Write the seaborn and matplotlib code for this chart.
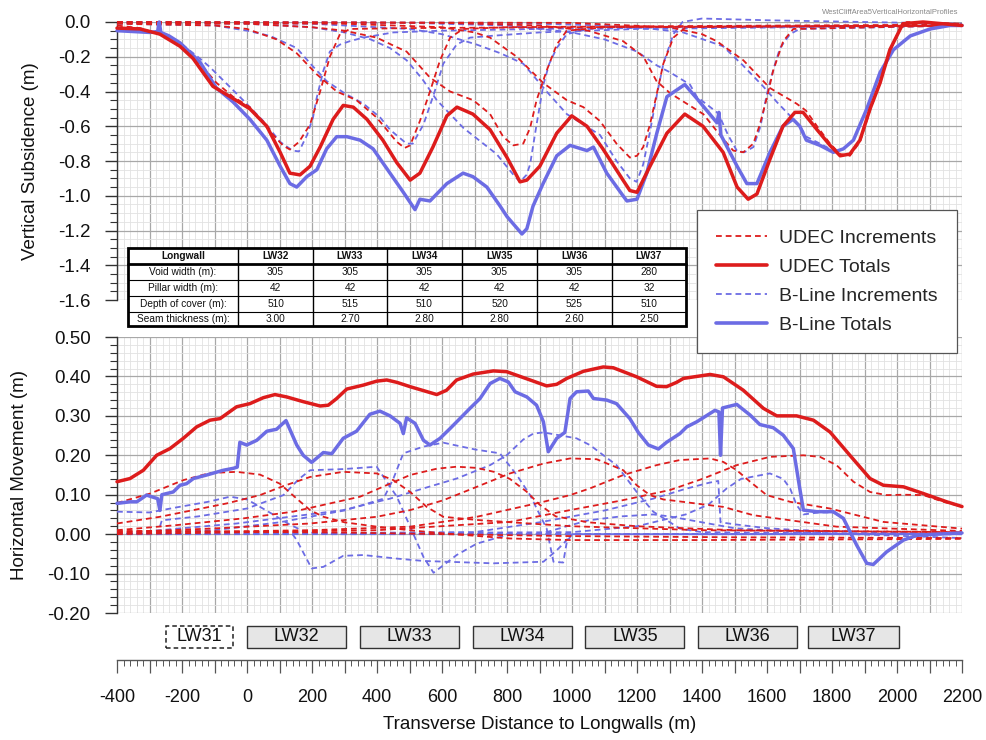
import matplotlib
matplotlib.use("Agg")
import matplotlib.pyplot as plt
import seaborn as sns
from matplotlib.ticker import MultipleLocator, FormatStrFormatter, FuncFormatter
from matplotlib.lines import Line2D
from matplotlib.patches import Rectangle

sns.set_style("white")
plt.rcParams["font.family"] = ["Liberation Sans", "DejaVu Sans"]

RED = "#dd1c1c"
BLUE = "#6c6ce4"

# ---------------- longwall geometry / table ----------------
longwalls = ["LW32", "LW33", "LW34", "LW35", "LW36", "LW37"]
void_w = [305, 305, 305, 305, 305, 280]
pillar_w = [42, 42, 42, 42, 42, 32]
depth_cover = [510, 515, 510, 520, 525, 510]
seam_thick = [3.00, 2.70, 2.80, 2.80, 2.60, 2.50]
lw31_extent = [-250, -42]

# ---------------- vertical subsidence (top) ----------------
udec_tot_x = [-400,-329,-268,-206,-166,-105,-43,9,61,102,132,163,194,225,265,296,327,369,418,461,
              502,532,572,615,646,695,748,800,840,861,901,953,999,1046,1095,1157,1178,1200,1240,1292,
              1347,1403,1465,1508,1542,1569,1609,1649,1686,1711,1754,1794,1825,1855,1886,1917,1948,1978,2018,2080,
              2140,2200]
udec_tot_y = [-0.035,-0.04,-0.07,-0.14,-0.21,-0.37,-0.44,-0.50,-0.60,-0.75,-0.87,-0.88,-0.83,-0.72,-0.56,
              -0.48,-0.49,-0.56,-0.68,-0.81,-0.91,-0.87,-0.72,-0.54,-0.49,-0.53,-0.62,-0.78,-0.92,-0.91,
              -0.83,-0.64,-0.54,-0.60,-0.73,-0.91,-0.97,-0.98,-0.83,-0.64,-0.53,-0.60,-0.75,-0.95,-1.02,
              -0.99,-0.79,-0.60,-0.52,-0.52,-0.62,-0.71,-0.77,-0.76,-0.68,-0.50,-0.35,-0.16,-0.01,0.0,
              -0.01,-0.02]

bline_tot_x = [-400,-350,-300,-275,-270,-265,-240,-206,-145,-94,-43,9,61,102,132,153,184,215,245,276,
               307,348,388,440,481,517,532,563,615,665,695,738,779,800,846,861,880,911,953,994,
               1046,1066,1107,1157,1169,1200,1230,1261,1292,1347,1384,1446,1452,1458,1508,1538,1569,1609,1649,1680,
               1701,1721,1763,1804,1835,1866,1907,1948,1989,2041,2102,2163,2200]
bline_tot_y = [-0.05,-0.055,-0.06,-0.055,0.0,-0.06,-0.08,-0.12,-0.23,-0.38,-0.46,-0.56,-0.68,-0.83,-0.93,
               -0.95,-0.89,-0.85,-0.73,-0.66,-0.66,-0.68,-0.73,-0.87,-0.98,-1.08,-1.02,-1.03,-0.93,-0.87,
               -0.89,-0.95,-1.06,-1.12,-1.22,-1.19,-1.06,-0.93,-0.77,-0.71,-0.74,-0.72,-0.87,-1.0,-1.03,
               -1.02,-0.87,-0.64,-0.43,-0.36,-0.44,-0.58,-0.52,-0.65,-0.83,-0.93,-0.93,-0.75,-0.60,-0.56,
               -0.60,-0.68,-0.71,-0.75,-0.73,-0.68,-0.50,-0.29,-0.16,-0.08,-0.04,-0.02,-0.02]

u32_x = [-400,-330,-268,-206,-145,-94,-43,9,71,110,132,160,194,225,255,286,317,500,1000,2200]
u32_y = [-0.02,-0.035,-0.07,-0.14,-0.24,-0.35,-0.43,-0.49,-0.63,-0.71,-0.734,-0.69,-0.59,-0.40,-0.20,-0.07,-0.04,-0.035,-0.03,-0.02]
u33_x = [-400,-100,0,91,153,214,276,337,399,461,485,502,532,563,594,625,665,800,1200,2200]
u33_y = [-0.01,-0.02,-0.04,-0.10,-0.18,-0.30,-0.40,-0.45,-0.55,-0.69,-0.725,-0.71,-0.57,-0.40,-0.22,-0.09,-0.04,-0.03,-0.025,-0.015]
u34_x = [-400,0,200,300,399,461,491,563,625,696,748,788,819,850,871,891,922,953,984,1100,2200]
u34_y = [-0.005,-0.01,-0.03,-0.05,-0.09,-0.145,-0.17,-0.32,-0.40,-0.45,-0.53,-0.66,-0.71,-0.70,-0.61,-0.45,-0.28,-0.13,-0.05,-0.03,-0.02]
u35_x = [-400,300,600,700,748,830,911,984,1035,1086,1137,1178,1200,1219,1240,1260,1281,1312,1350,2200]
u35_y = [-0.005,-0.01,-0.03,-0.06,-0.09,-0.2,-0.35,-0.45,-0.49,-0.57,-0.70,-0.78,-0.77,-0.72,-0.59,-0.42,-0.24,-0.09,-0.03,-0.02]
u36_x = [-400,600,900,1050,1157,1220,1260,1302,1353,1404,1455,1496,1527,1558,1578,1599,1619,1650,1681,2200]
u36_y = [0.0,-0.005,-0.02,-0.05,-0.11,-0.20,-0.34,-0.41,-0.47,-0.53,-0.65,-0.74,-0.75,-0.70,-0.59,-0.44,-0.28,-0.11,-0.04,-0.02]
u37_x = [-400,1000,1300,1400,1445,1527,1609,1691,1720,1754,1794,1825,1855,1886,1917,1948,1978,2010,2030,2200]
u37_y = [0.0,-0.005,-0.03,-0.07,-0.11,-0.22,-0.38,-0.47,-0.51,-0.60,-0.70,-0.76,-0.77,-0.69,-0.51,-0.35,-0.17,-0.03,0.0,-0.01]

b32_x = [-400,-330,-268,-206,-145,-114,-60,-12,50,102,140,160,185,203,214,235,255,286,317,358,450,600,900,1200,2200]
b32_y = [-0.04,-0.045,-0.06,-0.12,-0.21,-0.26,-0.36,-0.45,-0.57,-0.69,-0.74,-0.745,-0.65,-0.55,-0.44,-0.28,-0.17,-0.13,-0.11,-0.09,-0.06,-0.05,-0.04,-0.03,-0.02]
b33_x = [-400,-100,0,71,153,200,245,300,358,410,440,491,510,543,574,604,645,686,750,900,1200,2200]
b33_y = [-0.01,-0.02,-0.05,-0.08,-0.15,-0.25,-0.34,-0.41,-0.47,-0.55,-0.62,-0.70,-0.70,-0.59,-0.42,-0.24,-0.13,-0.09,-0.08,-0.06,-0.04,-0.02]
b34_x = [-400,0,200,300,380,440,491,540,584,666,768,820,840,860,871,891,912,930,953,984,1050,1300,2200]
b34_y = [-0.005,-0.01,-0.03,-0.06,-0.10,-0.15,-0.22,-0.33,-0.45,-0.61,-0.76,-0.88,-0.92,-0.88,-0.82,-0.59,-0.36,-0.24,-0.15,-0.07,-0.04,-0.03,-0.02]
b35_x = [-400,200,500,600,707,780,850,922,984,1035,1086,1137,1178,1199,1219,1240,1260,1281,1312,1340,1400,1600,2200]
b35_y = [0.0,-0.01,-0.04,-0.07,-0.13,-0.18,-0.24,-0.40,-0.53,-0.59,-0.65,-0.80,-0.90,-0.92,-0.82,-0.63,-0.43,-0.24,-0.07,0.0,0.02,0.01,-0.01]
b36_x = [-400,500,800,1000,1100,1200,1261,1302,1363,1384,1446,1456,1480,1507,1530,1558,1580,1599,1620,1640,1671,1700,2200]
b36_y = [0.0,-0.005,-0.02,-0.06,-0.10,-0.17,-0.25,-0.29,-0.36,-0.43,-0.52,-0.55,-0.65,-0.74,-0.75,-0.72,-0.60,-0.42,-0.27,-0.15,-0.07,-0.04,-0.02]
b37_x = [-400,800,1100,1250,1342,1465,1526,1588,1630,1671,1701,1721,1763,1804,1835,1866,1907,1948,1989,2041,2102,2163,2200]
b37_y = [0.0,-0.005,-0.02,-0.04,-0.06,-0.14,-0.25,-0.37,-0.46,-0.54,-0.60,-0.66,-0.70,-0.74,-0.73,-0.68,-0.50,-0.29,-0.16,-0.08,-0.04,-0.02,-0.02]

# ---------------- horizontal movement (bottom) ----------------
udec_hm_x = [-400,-360,-319,-278,-237,-196,-155,-114,-83,-32,9,50,86,122,173,225,250,276,307,358,
             399,430,461,502,584,614,645,696,758,799,871,922,953,984,1035,1096,1127,1199,1260,1291,
             1322,1343,1425,1466,1527,1589,1630,1691,1743,1794,1855,1917,1958,2020,2081,2153,2200]
udec_hm_y = [0.133,0.141,0.162,0.20,0.217,0.243,0.272,0.289,0.293,0.323,0.331,0.346,0.354,0.348,0.336,
             0.325,0.327,0.344,0.368,0.378,0.388,0.391,0.385,0.374,0.354,0.365,0.391,0.406,0.414,0.412,
             0.391,0.376,0.380,0.395,0.413,0.424,0.422,0.399,0.375,0.374,0.385,0.395,0.405,0.399,0.365,
             0.319,0.300,0.300,0.289,0.259,0.20,0.141,0.124,0.120,0.103,0.082,0.070]

bline_hm_x = [-400,-360,-339,-309,-275,-268,-262,-227,-206,-186,-165,-124,-73,-42,-30,-22,-1,30,61,91,
              120,153,173,199,235,261,296,337,378,409,440,471,481,491,517,543,563,594,625,655,
              686,717,748,778,804,825,861,891,912,927,953,978,994,1014,1050,1066,1107,1137,1178,1204,
              1235,1266,1291,1332,1353,1384,1440,1452,1457,1463,1507,1548,1578,1619,1650,1681,1700,1712,1753,1804,
              1835,1876,1907,1927,1968,2020,2061,2122,2200]
bline_hm_y = [0.078,0.082,0.082,0.099,0.09,0.06,0.10,0.107,0.124,0.128,0.141,0.15,0.162,0.167,0.17,
              0.233,0.226,0.238,0.261,0.266,0.288,0.226,0.20,0.182,0.207,0.204,0.243,0.261,0.304,0.312,
              0.300,0.281,0.255,0.295,0.281,0.238,0.226,0.243,0.268,0.293,0.319,0.344,0.382,0.395,0.386,
              0.361,0.348,0.327,0.285,0.209,0.243,0.258,0.344,0.361,0.363,0.344,0.340,0.331,0.293,0.258,
              0.226,0.216,0.233,0.255,0.272,0.285,0.314,0.31,0.20,0.32,0.329,0.302,0.278,0.270,0.251,
              0.217,0.12,0.061,0.057,0.057,0.04,-0.028,-0.074,-0.077,-0.045,-0.015,-0.003,0.0,0.003]

h31_x = [-400,-200,0,300,600,1000,1500,2200]
h31_y = [0.008,0.008,0.006,0.004,0.0,-0.005,-0.008,-0.01]
h32_x = [-400,-298,-196,-114,-32,40,101,153,194,235,300,399,500,604,809,994,1400,2200]
h32_y = [0.079,0.103,0.137,0.155,0.158,0.151,0.128,0.09,0.061,0.044,0.03,0.019,0.01,0.002,-0.011,-0.015,-0.015,-0.012]
h33_x = [-400,-268,-165,-62,40,112,194,296,399,450,502,553,604,707,850,1000,1400,2200]
h33_y = [0.027,0.044,0.061,0.078,0.099,0.122,0.145,0.158,0.154,0.137,0.107,0.069,0.044,0.036,0.028,0.02,0.01,0.005]
h34_x = [-400,-216,-11,142,348,440,502,584,645,707,760,809,860,900,950,1050,1200,1500,2200]
h34_y = [0.01,0.023,0.04,0.057,0.095,0.128,0.15,0.166,0.171,0.168,0.158,0.14,0.108,0.075,0.045,0.03,0.02,0.01,0.005]
h35_x = [-400,-114,194,399,502,604,707,809,912,994,1076,1158,1199,1240,1281,1302,1466,1558,1814,2200]
h35_y = [0.005,0.014,0.027,0.044,0.061,0.086,0.12,0.154,0.179,0.192,0.19,0.162,0.124,0.099,0.088,0.086,0.069,0.048,0.019,0.008]
h36_x = [-400,200,502,707,912,994,1055,1158,1260,1332,1425,1466,1507,1548,1599,1671,1794,1958,2200]
h36_y = [0.003,0.01,0.019,0.044,0.082,0.099,0.116,0.15,0.175,0.188,0.192,0.183,0.162,0.133,0.099,0.082,0.065,0.031,0.014]
h37_x = [-400,400,809,994,1150,1302,1404,1507,1609,1712,1763,1814,1866,1917,1968,2020,2081,2143,2200]
h37_y = [0.0,0.01,0.031,0.061,0.085,0.112,0.141,0.175,0.196,0.20,0.196,0.175,0.133,0.107,0.099,0.10,0.099,0.082,0.07]

g1_x = [-400,-300,-216,-120,-52,0,30,80,130,180,250,600,1200,2200]
g1_y = [0.057,0.055,0.068,0.082,0.095,0.088,0.074,0.05,0.025,0.005,0.0,0.0,0.0,0.0]
g2_x = [-400,-275,-262,-150,0,112,160,194,296,399,461,502,543,574,645,707,809,1200,2200]
g2_y = [0.0,0.0,0.035,0.045,0.065,0.099,0.14,0.162,0.165,0.171,0.095,0.019,-0.058,-0.098,-0.053,-0.024,0.0,0.0,0.0]
g3_x = [-400,100,140,153,199,235,296,358,461,543,758,912,953,984,1000,2200]
g3_y = [0.0,0.0,0.0,-0.015,-0.087,-0.083,-0.055,-0.053,-0.062,-0.068,-0.074,-0.07,-0.041,-0.015,0.0,0.0]
g4_x = [-400,-100,100,300,420,450,481,543,604,700,778,830,871,922,943,973,984,1000,2200]
g4_y = [0.0,0.01,0.03,0.06,0.09,0.14,0.205,0.222,0.232,0.215,0.205,0.15,0.099,0.014,-0.07,-0.072,-0.02,0.0,0.0]
g5_x = [-400,-200,-32,296,440,543,645,748,799,850,881,912,1014,1055,1137,1199,1250,1332,1400,2200]
g5_y = [0.0,0.015,0.027,0.061,0.09,0.116,0.141,0.175,0.2,0.24,0.255,0.258,0.243,0.226,0.175,0.107,0.057,0.014,0.005,0.0]
g6_x = [-400,700,900,1100,1250,1350,1420,1450,1457,1500,1600,1700,2200]
g6_y = [0.0,0.005,0.03,0.06,0.09,0.115,0.13,0.135,0.03,0.025,0.015,0.01,0.0]
g7_x = [-400,1000,1200,1350,1420,1476,1520,1609,1650,1671,1691,1712,1760,1804,1835,1876,1907,1927,1968,2020,2061,2122,2200]
g7_y = [0.0,0.005,0.02,0.05,0.075,0.116,0.14,0.154,0.14,0.116,0.074,0.05,0.055,0.055,0.04,-0.028,-0.074,-0.077,-0.045,-0.015,-0.005,0.0,0.002]
g8_x = [-400,900,984,1050,1150,1250,1300,1400,1500,1700,2200]
g8_y = [0.0,0.0,0.02,0.035,0.045,0.05,0.045,0.03,0.015,0.005,-0.01]

# ---------------- figure layout ----------------
W, H = 986, 740
fig = plt.figure(figsize=(W / 100, H / 100), dpi=100)


def fx(px):
    return px / W


def fy(py):
    return 1 - py / H


L, R = 117, 962
ax1 = fig.add_axes([fx(L), fy(300), fx(R) - fx(L), fy(22) - fy(300)])
ax2 = fig.add_axes([fx(L), fy(613), fx(R) - fx(L), fy(337) - fy(613)])
axr = fig.add_axes([fx(L), fy(660), fx(R) - fx(L), fy(618) - fy(660)])

DASH = (0, (3.2, 2.2))


def draw(ax, x, y, color, dashed, z):
    sns.lineplot(x=x, y=y, ax=ax, color=color, lw=1.3 if dashed else 2.5,
                 linestyle=DASH if dashed else "-", estimator=None, sort=False,
                 legend=False, clip_on=False, zorder=z)


for xs, ys in [(b32_x, b32_y), (b33_x, b33_y), (b34_x, b34_y), (b35_x, b35_y), (b36_x, b36_y), (b37_x, b37_y)]:
    draw(ax1, xs, ys, BLUE, True, 3)
for xs, ys in [(u32_x, u32_y), (u33_x, u33_y), (u34_x, u34_y), (u35_x, u35_y), (u36_x, u36_y), (u37_x, u37_y)]:
    draw(ax1, xs, ys, RED, True, 3)
draw(ax1, bline_tot_x, bline_tot_y, BLUE, False, 4)
draw(ax1, udec_tot_x, udec_tot_y, RED, False, 5)

for xs, ys in [(g1_x, g1_y), (g2_x, g2_y), (g3_x, g3_y), (g4_x, g4_y), (g5_x, g5_y), (g6_x, g6_y), (g7_x, g7_y), (g8_x, g8_y)]:
    draw(ax2, xs, ys, BLUE, True, 3)
for xs, ys in [(h31_x, h31_y), (h32_x, h32_y), (h33_x, h33_y), (h34_x, h34_y), (h35_x, h35_y), (h36_x, h36_y), (h37_x, h37_y)]:
    draw(ax2, xs, ys, RED, True, 3)
draw(ax2, bline_hm_x, bline_hm_y, BLUE, False, 4)
draw(ax2, udec_hm_x, udec_hm_y, RED, False, 5)


def style(ax, ylim, ymaj, ymin, fmt, label, lx):
    ax.set_xlim(-400, 2200)
    ax.set_ylim(*ylim)
    ax.xaxis.set_major_locator(MultipleLocator(100))
    ax.xaxis.set_minor_locator(MultipleLocator(20))
    ax.yaxis.set_major_locator(MultipleLocator(ymaj))
    ax.yaxis.set_minor_locator(MultipleLocator(ymin))
    ax.grid(True, which="major", color="#a8a8a8", lw=0.9)
    ax.grid(True, which="minor", color="#e2e2e2", lw=0.6)
    ax.set_axisbelow(True)
    for s in ["top", "right", "bottom"]:
        ax.spines[s].set_visible(False)
    ax.spines["left"].set_color("#333333")
    ax.spines["left"].set_linewidth(1.0)
    ax.tick_params(axis="x", which="both", length=0, bottom=False, labelbottom=False)
    ax.tick_params(axis="y", which="major", left=True, length=9, width=1.0, direction="out",
                   pad=10, labelsize=13.5, color="#333333", labelcolor="#111111")
    ax.tick_params(axis="y", which="minor", left=True, length=5, width=0.8, direction="out",
                   color="#333333")
    ax.yaxis.set_major_formatter(FormatStrFormatter(fmt))
    ax.set_xlabel("")
    ax.set_ylabel(label, fontsize=13.5, color="#111111")
    ax.yaxis.set_label_coords(lx, 0.5)


style(ax1, (-1.6, 0.0), 0.2, 0.05, "%.1f", "Vertical Subsidence (m)", (39 - L) / (R - L))
style(ax2, (-0.2, 0.5), 0.1, 0.02, "%.2f", "Horizontal Movement (m)", (28 - L) / (R - L))

# ---------------- ruler axis with longwall boxes ----------------
axr.set_xlim(-400, 2200)
axr.set_ylim(0, 1)
axr.patch.set_alpha(0)
for s in ["top", "right", "left"]:
    axr.spines[s].set_visible(False)
axr.spines["bottom"].set_color("#555555")
axr.spines["bottom"].set_linewidth(1.0)
axr.set_yticks([])
axr.xaxis.set_major_locator(MultipleLocator(100))
axr.xaxis.set_minor_locator(MultipleLocator(20))
axr.xaxis.set_major_formatter(FuncFormatter(lambda v, p: f"{int(round(v))}" if int(round(v)) % 200 == 0 else ""))
axr.tick_params(axis="x", which="major", bottom=True, length=9, width=0.9, direction="out", pad=12,
                labelsize=13, color="#555555", labelcolor="#111111")
axr.tick_params(axis="x", which="minor", bottom=True, length=4.5, width=0.7, direction="out",
                color="#555555")
axr.set_xlabel("Transverse Distance to Longwalls (m)", fontsize=13.5, labelpad=7, color="#111111")

start = 0
for i, name in enumerate(longwalls):
    if i > 0:
        start = start + pillar_w[i]
    axr.add_patch(Rectangle((start, 0.29), void_w[i], 0.52, facecolor="#e6e6e6",
                            edgecolor="#333333", lw=1.0))
    axr.text(start + void_w[i] / 2, 0.55, name, ha="center", va="center", fontsize=13, color="#111111")
    start = start + void_w[i]
axr.add_patch(Rectangle((lw31_extent[0], 0.29), lw31_extent[1] - lw31_extent[0], 0.52,
                        facecolor="white", edgecolor="#222222", lw=1.1, linestyle=(0, (3, 2))))
axr.text((lw31_extent[0] + lw31_extent[1]) / 2, 0.55, "LW31", ha="center", va="center",
         fontsize=13, color="#111111")

# ---------------- parameter table ----------------
axt = fig.add_axes([0, 0, 1, 1], zorder=10)
axt.set_xlim(0, W)
axt.set_ylim(H, 0)
axt.axis("off")
axt.patch.set_alpha(0)
col_edges = [128, 238, 313, 387, 462, 537, 612, 686]
row_edges = [248, 264, 280, 296, 312, 326]
axt.add_patch(Rectangle((col_edges[0], row_edges[0]), col_edges[-1] - col_edges[0],
                        row_edges[-1] - row_edges[0], facecolor="white", edgecolor="none"))
rows = [["Longwall"] + longwalls,
        ["Void width (m):"] + [str(v) for v in void_w],
        ["Pillar width (m):"] + [str(v) for v in pillar_w],
        ["Depth of cover (m):"] + [str(v) for v in depth_cover],
        ["Seam thickness (m):"] + [f"{v:.2f}" for v in seam_thick]]
for r, row in enumerate(rows):
    yc = (row_edges[r] + row_edges[r + 1]) / 2
    for c, txt in enumerate(row):
        xc = (col_edges[c] + col_edges[c + 1]) / 2
        axt.text(xc, yc, txt, ha="center", va="center", fontsize=7.3,
                 fontweight="bold" if r == 0 else "normal", color="#111111")
for yv in row_edges[2:-1]:
    axt.plot([col_edges[0], col_edges[-1]], [yv, yv], color="black", lw=0.8)
axt.plot([col_edges[0], col_edges[-1]], [row_edges[1], row_edges[1]], color="black", lw=2.0)
for xv in col_edges[1:-1]:
    axt.plot([xv, xv], [row_edges[0], row_edges[-1]], color="black", lw=1.0)
axt.add_patch(Rectangle((col_edges[0], row_edges[0]), col_edges[-1] - col_edges[0],
                        row_edges[-1] - row_edges[0], facecolor="none", edgecolor="black", lw=2.0))

# ---------------- legend + watermark ----------------
handles = [Line2D([], [], color=RED, lw=1.3, linestyle=DASH),
           Line2D([], [], color=RED, lw=2.6),
           Line2D([], [], color=BLUE, lw=1.3, linestyle=DASH),
           Line2D([], [], color=BLUE, lw=2.6)]
labels = ["UDEC Increments", "UDEC Totals", "B-Line Increments", "B-Line Totals"]
leg = fig.legend(handles, labels, loc="upper left", bbox_to_anchor=(fx(697), fy(210)),
                 frameon=True, fancybox=False, edgecolor="#555555", framealpha=1,
                 fontsize=14, handlelength=2.6, handletextpad=0.6, labelspacing=0.58,
                 borderpad=1.0, borderaxespad=0)
leg.get_frame().set_linewidth(0.9)
leg.set_zorder(20)

fig.text(fx(958), fy(13), "WestCliffArea5VerticalHorizontalProfiles", ha="right", va="center",
         fontsize=5.5, color="#888888")

fig.savefig("out.png", dpi=100, facecolor="white")
